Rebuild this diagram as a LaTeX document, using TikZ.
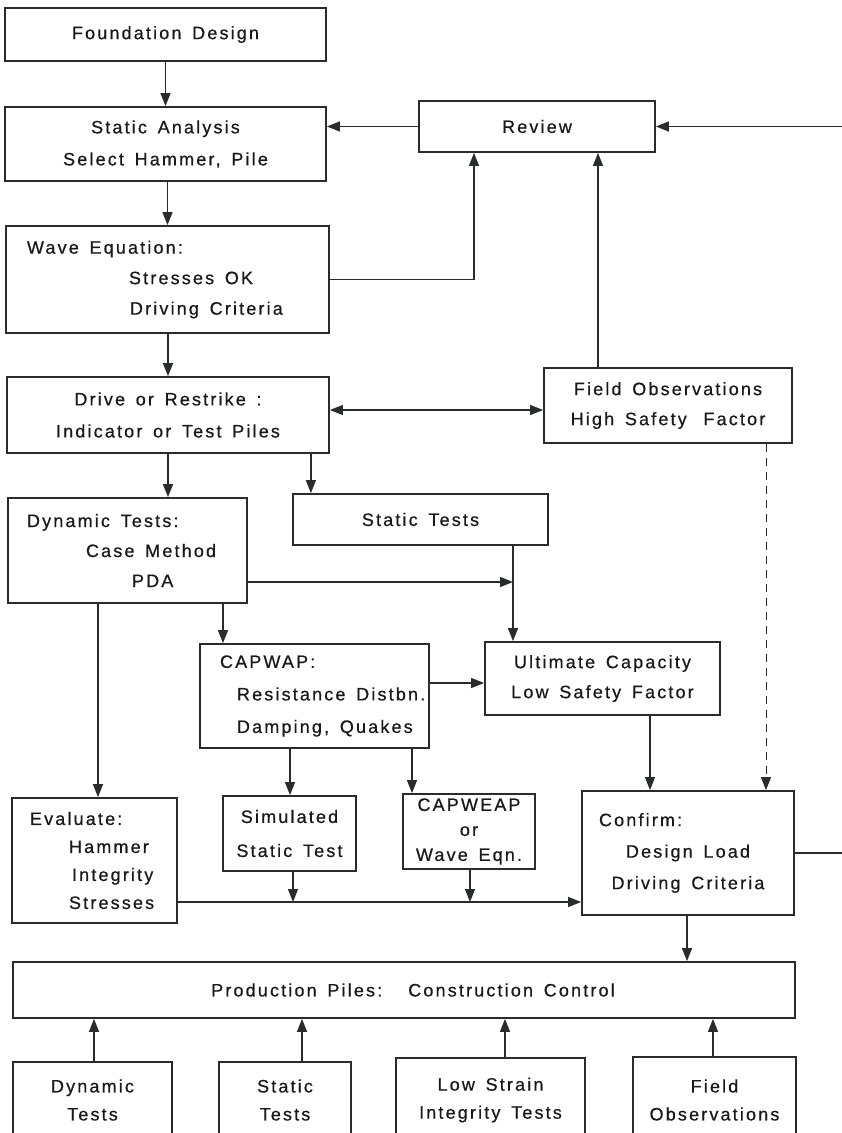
\documentclass[tikz,border=0pt]{standalone}
\usepackage{fontspec}
\setmainfont[LetterSpace=12,FakeBold=0.6,WordSpace=1.5]{Liberation Sans}
\usetikzlibrary{arrows.meta,calc}
\definecolor{ink}{RGB}{40,44,42}
\newcommand\lft[3]{\makebox[#1pt][l]{\hspace*{#2pt}#3}}
\newcommand\ctr[2]{\makebox[#1pt][c]{#2}}
\tikzset{
  box/.style={draw=ink, line width=1.8pt, inner sep=0pt, align=center, text=black!90},
  lsp/.style={font=\fontsize{18}{#1}\selectfont},
  arr/.style={draw=ink, line width=1.3pt, -{Triangle[length=13pt,width=10pt]}},
  darr/.style={draw=ink, line width=1.3pt, {Triangle[length=13pt,width=10pt]}-{Triangle[length=13pt,width=10pt]}},
  dsh/.style={arr, dash pattern=on 8pt off 6pt, line width=1pt}
}
\begin{document}
\begin{tikzpicture}[x=1pt,y=-1pt]
\useasboundingbox (0,0) rectangle (842,1133);
% boxes
\node[box, lsp=30, minimum width=321, minimum height=53] (found) at (165.5,34.5) {Foundation Design};
\node[box, lsp=32, minimum width=321, minimum height=74] (stat) at (165.5,144) {Static Analysis\\Select Hammer, Pile};
\node[box, lsp=30, minimum width=236, minimum height=51] (review) at (537,126.5) {Review};
\node[box, lsp=30.5, minimum width=323, minimum height=107] (wave) at (167.5,279.5) {\lft{323}{21}{Wave Equation:}\\\lft{323}{123}{Stresses OK}\\\lft{323}{124}{Driving Criteria}};
\node[box, lsp=32, minimum width=322, minimum height=76] (drive) at (168,415) {Drive or Restrike :\\Indicator or Test Piles};
\node[box, lsp=30, minimum width=248, minimum height=75] (field) at (668,405.5) {Field Observations\\High Safety\hspace{6pt} Factor};
\node[box, lsp=30, minimum width=239, minimum height=105] (dyn) at (127.5,550.5) {\lft{239}{19}{Dynamic Tests:}\\\lft{239}{78}{Case Method}\\\lft{239}{124}{PDA}};
\node[box, lsp=30, minimum width=255, minimum height=51] (stt) at (420.5,519.5) {Static Tests};
\node[box, lsp=30, minimum width=235, minimum height=73] (ult) at (602.5,678.5) {Ultimate Capacity\\Low Safety Factor};
\node[box, lsp=32.5, minimum width=229, minimum height=104] (capwap) at (314.5,696) {\lft{229}{20}{CAPWAP:}\\\lft{229}{37}{Resistance Distbn.}\\\lft{229}{37}{Damping, Quakes}};
\node[box, lsp=28, minimum width=165, minimum height=125] (eval) at (94.5,860.5) {\lft{165}{18}{Evaluate:}\\\lft{165}{57}{Hammer}\\\lft{165}{60}{Integrity}\\\lft{165}{57}{Stresses}};
\node[box, lsp=34, minimum width=133, minimum height=75] (sim) at (289.5,833.5) {Simulated\\Static Test};
\node[box, lsp=25, minimum width=132, minimum height=75] (capweap) at (469,831.5) {CAPWEAP\\or\\Wave Eqn.};
\node[box, lsp=31.5, minimum width=212, minimum height=124] (confirm) at (688,853) {\lft{212}{17}{Confirm:}\\\ctr{212}{Design Load}\\\ctr{212}{Driving Criteria}};
\node[box, lsp=30, minimum width=782, minimum height=56] (prod) at (404,990) {\hspace*{18pt}Production Piles:\hspace{26pt}Construction Control};
\node[box, lsp=28, minimum width=159, minimum height=76] (bdyn) at (92.5,1100) {Dynamic\\Tests};
\node[box, lsp=28, minimum width=132, minimum height=76] (bstat) at (285,1100) {Static\\Tests};
\node[box, lsp=28, minimum width=189, minimum height=84] (blow) at (490.5,1100) {Low Strain\\Integrity Tests};
\node[box, lsp=28, minimum width=163, minimum height=86] (bfield) at (714.5,1100) {Field\\Observations};
\coordinate (edge) at (852,0);
% connectors
\draw[arr] (found.south) -- (stat.north);
\draw[arr] (stat.south -| wave.north) -- (wave.north);
\draw[arr] (wave.south -| drive.north) -- (drive.north);
\draw[arr] (review.west) -- (review.west -| stat.east);
\draw[arr] (confirm.east) -- (confirm.east -| edge) -- (review.east -| edge) -- (review.east);
\draw[arr] (wave.east) -| ([xshift=-63pt]review.south);
\draw[arr] ([xshift=-70pt]field.north) -- ([xshift=-70pt]field.north |- review.south);
\draw[darr] ([yshift=5pt]drive.east) coordinate (dd) -- (dd -| field.west);
\draw[arr] (drive.south) -- (drive.south |- dyn.north);
\draw[arr] ([xshift=-19pt]drive.south east) coordinate (d2) -- (d2 |- stt.north);
\coordinate (sj) at ([xshift=92.5pt]stt.south);
\draw[arr] (sj) -- (sj |- ult.north);
\draw[arr] ([yshift=-31.5pt]dyn.east) coordinate (d1) -- (d1 -| sj);
\draw[arr] ([xshift=-29.5pt]dyn.south) coordinate (d3) -- (d3 |- eval.north);
\draw[arr] ([xshift=95.5pt]dyn.south) coordinate (d4) -- (d4 |- capwap.north);
\draw[arr] ([yshift=13pt]capwap.east) coordinate (c1) -- (c1 -| ult.west);
\draw[arr] ([xshift=-24.5pt]capwap.south) coordinate (c2) -- (c2 |- sim.north);
\draw[arr] ([xshift=97.5pt]capwap.south) coordinate (c3) -- (c3 |- capweap.north);
\draw[arr] ([xshift=47.5pt]ult.south) coordinate (u1) -- (u1 |- confirm.north);
\draw[dsh] ([xshift=98pt]field.south) coordinate (f1) -- (f1 |- confirm.north);
\draw[arr] ([yshift=-41.5pt]eval.east) coordinate (e1) -- (e1 -| confirm.west);
\draw[arr] ([xshift=3.5pt]sim.south) coordinate (s1) -- (s1 |- e1);
\draw[arr] ([xshift=1pt]capweap.south) coordinate (s2) -- (s2 |- e1);
\draw[arr] ([xshift=-1pt]confirm.south) coordinate (cf) -- (cf |- prod.north);
\draw[arr] ([xshift=1.5pt]bdyn.north) coordinate (b1) -- (b1 |- prod.south);
\draw[arr] ([xshift=17pt]bstat.north) coordinate (b2) -- (b2 |- prod.south);
\draw[arr] ([xshift=14.5pt]blow.north) coordinate (b3) -- (b3 |- prod.south);
\draw[arr] ([xshift=-1.5pt]bfield.north) coordinate (b4) -- (b4 |- prod.south);
\end{tikzpicture}
\end{document}
